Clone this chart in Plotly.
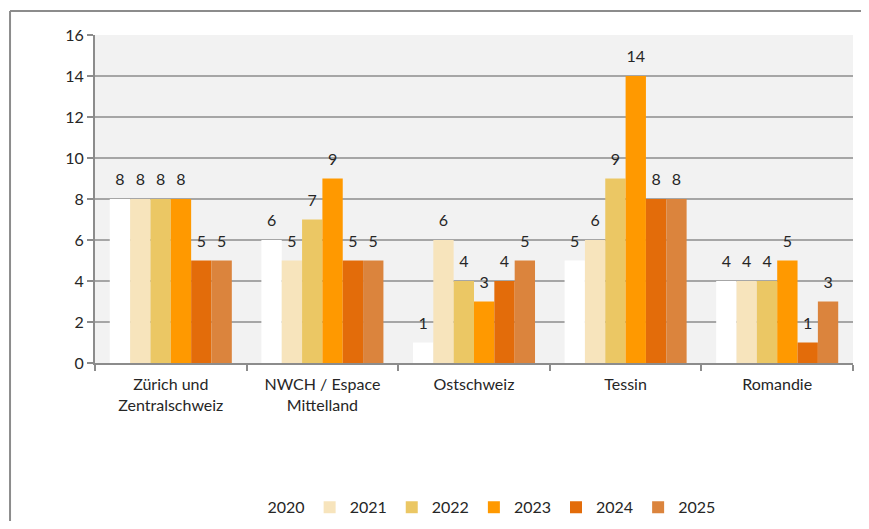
import plotly.graph_objects as go

regions = ["Zürich und<br>Zentralschweiz", "NWCH / Espace<br>Mittelland", "Ostschweiz", "Tessin", "Romandie"]
years = ["2020", "2021", "2022", "2023", "2024", "2025"]
values = {
    "2020": [8, 6, 1, 5, 4],
    "2021": [8, 5, 6, 6, 4],
    "2022": [8, 7, 4, 9, 4],
    "2023": [8, 9, 3, 14, 5],
    "2024": [5, 5, 4, 8, 1],
    "2025": [5, 5, 5, 8, 3],
}
colors = ["#FFFFFF", "#F7E4BC", "#EBC764", "#FF9900", "#E36C0A", "#DB843D"]

FONT = "Lato, Calibri, Carlito, sans-serif"

fig = go.Figure()
for year, color in zip(years, colors):
    fig.add_trace(go.Bar(
        x=regions,
        y=values[year],
        name=year,
        marker=dict(color=color, line=dict(width=0)),
    ))

# data labels, grouped the same way as the bars but a bit higher above them
for year in years:
    fig.add_trace(go.Scatter(
        x=regions,
        y=values[year],
        mode="markers+text",
        text=values[year],
        textposition="top center",
        textfont=dict(size=16, color="#262626", family=FONT),
        marker=dict(size=14, color="rgba(0,0,0,0)"),
        showlegend=False,
        hoverinfo="skip",
        cliponaxis=False,
    ))

# outer chart border: only the top and left edges are inside the window
border = dict(color="#8C8C8C", width=2)
fig.add_shape(type="line", xref="paper", yref="paper",
              x0=-0.1121, y0=1.0732, x1=1.05, y1=1.0732, line=border, layer="below")
fig.add_shape(type="line", xref="paper", yref="paper",
              x0=-0.1121, y0=1.0732, x1=-0.1121, y1=-0.6, line=border, layer="below")

fig.update_layout(
    barmode="group",
    scattermode="group",
    bargap=0.195,
    bargroupgap=0,
    scattergap=0.195,
    width=861, height=513,
    margin=dict(l=87, r=16, t=27, b=158, autoexpand=False),
    paper_bgcolor="white",
    plot_bgcolor="#F2F2F2",
    font=dict(family=FONT, size=16, color="#262626"),
    showlegend=True,
    legend=dict(orientation="h", x=0.5, xanchor="center", y=-0.44, yanchor="middle",
                font=dict(size=16), traceorder="normal"),
    xaxis=dict(
        showline=True, linecolor="#8C8C8C", linewidth=2,
        ticks="outside", tickson="boundaries", ticklen=6, tickcolor="#8C8C8C", tickwidth=2,
        showgrid=False, tickfont=dict(size=16), ticklabelstandoff=6,
    ),
    yaxis=dict(
        range=[0, 16], dtick=2,
        showline=True, linecolor="#8C8C8C", linewidth=2,
        ticks="outside", ticklen=6, tickcolor="#8C8C8C", tickwidth=2,
        gridcolor="#A6A6A6", gridwidth=2, zeroline=False,
        tickfont=dict(size=16),
    ),
)

fig.write_html("out.html")
